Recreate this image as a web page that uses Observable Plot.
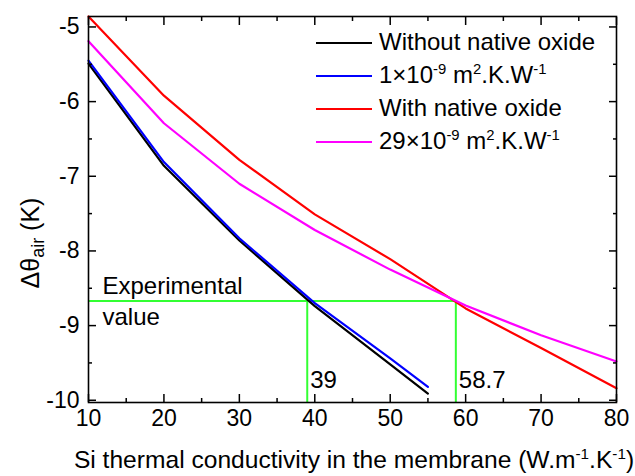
<!DOCTYPE html>
<html><head><meta charset="utf-8">
<script src="https://cdn.jsdelivr.net/npm/d3@7"></script>
<script src="https://cdn.jsdelivr.net/npm/@observablehq/plot@0.6"></script>
<style>
body{margin:0;background:#fff;}
#wrap{position:relative;width:635px;height:476px;font-family:"Liberation Sans",Arial,sans-serif;color:#000;}
.ov{position:absolute;white-space:nowrap;line-height:1;}
.ov sup,.ov sub{font-size:0.62em;line-height:0;}
.ov sup{vertical-align:0.6em;}
.ov sub{vertical-align:-0.3em;}
.legrow{position:absolute;left:316px;height:0;}
.legrow .sw{position:absolute;left:0;width:56px;height:0;border-top:2.5px solid #000;top:-1px;}
.legrow .lt{position:absolute;left:63px;top:-13px;font-size:24px;line-height:1;white-space:nowrap;}
</style></head><body><div id="wrap"></div>
<script>
// Data
const kShort = [10, 20, 30, 40, 50, 55];
const kLong = [10, 20, 30, 40, 50, 60, 70, 80];
const withoutOxide = [-5.49, -6.86, -7.86, -8.74, -9.52, -9.91];
const tbr1 = [-5.45, -6.81, -7.83, -8.70, -9.44, -9.82];
const withOxide = [-4.86, -5.92, -6.78, -7.51, -8.11, -8.77, -9.30, -9.84];
const tbr29 = [-5.19, -6.29, -7.10, -7.72, -8.25, -8.73, -9.13, -9.48];
const seriesNames = ["Without native oxide", "1×10<sup>-9</sup> m<sup>2</sup>.K.W<sup>-1</sup>", "With native oxide", "29×10<sup>-9</sup> m<sup>2</sup>.K.W<sup>-1</sup>"];
const seriesColors = ["#000000", "#0000ff", "#ff0000", "#ff00ff"];
const experimentalValue = -8.67;
const fittedK = [39, 58.7];
const xMajorTicks = [10, 20, 30, 40, 50, 60, 70, 80];
const xMinorTicks = [15, 25, 35, 45, 55, 65, 75];
const yMajorTicks = [-5, -6, -7, -8, -9, -10];
const yMinorTicks = [-5.5, -6.5, -7.5, -8.5, -9.5];
const xDomain = [10, 80];
const yDomain = [-10.03, -4.86];

const seriesX = [kShort, kShort, kLong, kLong];
const seriesY = [withoutOxide, tbr1, withOxide, tbr29];
const rows = [];
seriesY.forEach((ys, i) => ys.forEach((v, j) => rows.push({k: seriesX[i][j], dT: v, s: i})));

const green = "#33ff33";
const noText = () => "";
const fs = 23;

const chart = Plot.plot({
  width: 635, height: 476,
  marginLeft: 88, marginRight: 19, marginTop: 16, marginBottom: 74,
  x: {domain: xDomain},
  y: {domain: yDomain},
  style: {fontFamily: "'Liberation Sans', Arial, sans-serif", fontSize: "23px", color: "#000", background: "#fff", overflow: "visible"},
  marks: [
    // experimental value guides
    Plot.ruleY([experimentalValue], {x1: xDomain[0], x2: fittedK[1], stroke: green, strokeWidth: 2}),
    Plot.ruleX(fittedK, {x: d => d, y1: experimentalValue, y2: yDomain[0], stroke: green, strokeWidth: 2}),
    // curves
    ...seriesColors.map((c, i) => Plot.line(rows.filter(r => r.s === i), {x: "k", y: "dT", stroke: c, strokeWidth: 2.2})),
    // annotations
    Plot.text(["Experimental"], {x: xDomain[0], y: experimentalValue, text: d => d, textAnchor: "start", lineAnchor: "bottom", dx: 14, dy: -7, fontSize: 24}),
    Plot.text(["value"], {x: xDomain[0], y: experimentalValue, text: d => d, textAnchor: "start", lineAnchor: "bottom", dx: 14, dy: 24, fontSize: 24}),
    Plot.text(fittedK, {x: d => d, frameAnchor: "bottom", text: d => String(d), textAnchor: "start", lineAnchor: "bottom", dx: 3, dy: -15, fontSize: 24}),
    // axes: labels
    Plot.axisX({anchor: "bottom", ticks: xMajorTicks, tickSize: 0, tickPadding: 7, label: null, tickFormat: d => String(d), fontSize: fs}),
    Plot.axisY({anchor: "left", ticks: yMajorTicks, tickSize: 0, tickPadding: 9, label: null, tickFormat: d => String(d), fontSize: fs}),
    // inward ticks on all sides
    Plot.axisX({anchor: "bottom", ticks: xMajorTicks, tickSize: -8, tickFormat: noText, label: null, strokeWidth: 1.5}),
    Plot.axisX({anchor: "bottom", ticks: xMinorTicks, tickSize: -4, tickFormat: noText, label: null, strokeWidth: 1.5}),
    Plot.axisX({anchor: "top", ticks: xMajorTicks, tickSize: -8, tickFormat: noText, label: null, strokeWidth: 1.5}),
    Plot.axisX({anchor: "top", ticks: xMinorTicks, tickSize: -4, tickFormat: noText, label: null, strokeWidth: 1.5}),
    Plot.axisY({anchor: "left", ticks: yMajorTicks, tickSize: -8, tickFormat: noText, label: null, strokeWidth: 1.5}),
    Plot.axisY({anchor: "left", ticks: yMinorTicks, tickSize: -4, tickFormat: noText, label: null, strokeWidth: 1.5}),
    Plot.axisY({anchor: "right", ticks: yMajorTicks, tickSize: -8, tickFormat: noText, label: null, strokeWidth: 1.5}),
    Plot.axisY({anchor: "right", ticks: yMinorTicks, tickSize: -4, tickFormat: noText, label: null, strokeWidth: 1.5}),
    Plot.frame({stroke: "#000", strokeWidth: 1.6})
  ]
});

const wrap = document.getElementById("wrap");
wrap.appendChild(chart);

// legend (HTML overlay inside the plot area)
const legendTop = 43;
const legendStep = 33;
seriesNames.forEach((name, i) => {
  const row = document.createElement("div");
  row.className = "legrow";
  row.style.top = (legendTop + i * legendStep) + "px";
  row.innerHTML = `<div class="sw" style="border-top-color:${seriesColors[i]}"></div><div class="lt ov" style="position:absolute">${name}</div>`;
  wrap.appendChild(row);
});

// axis titles
const xt = document.createElement("div");
xt.className = "ov";
xt.style.cssText = "left:60px;width:588px;top:448px;text-align:center;font-size:24.6px;";
xt.innerHTML = "Si thermal conductivity in the membrane (W.m<sup>-1</sup>.K<sup>-1</sup>)";
wrap.appendChild(xt);

const yt = document.createElement("div");
yt.className = "ov";
yt.style.cssText = "left:30px;top:243px;font-size:25px;transform:translate(-50%,-50%) rotate(-90deg);";
yt.innerHTML = "Δθ<sub style='font-size:0.72em'>air</sub> (K)";
wrap.appendChild(yt);
</script>
</body></html>
